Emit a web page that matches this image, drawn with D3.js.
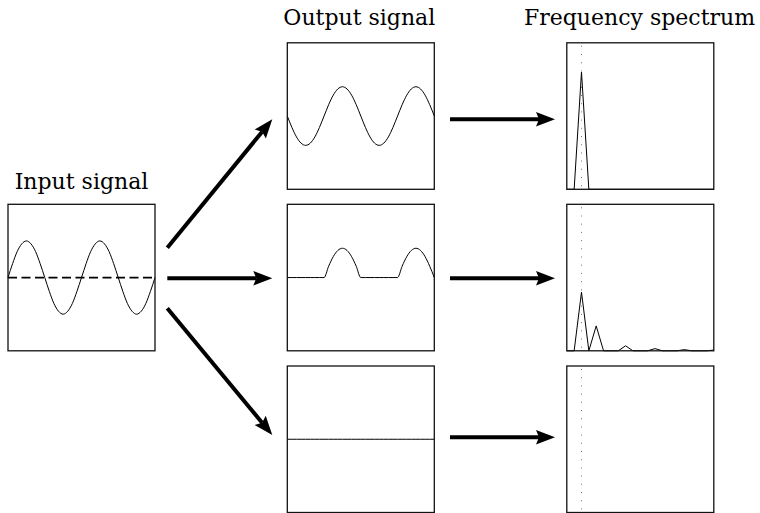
<!DOCTYPE html>
<html>
<head>
<meta charset="utf-8">
<script src="https://cdn.jsdelivr.net/npm/d3@7"></script>
<style>
  html, body { margin: 0; padding: 0; background: #fff; }
  svg { display: block; }
</style>
</head>
<body>
<svg id="chart" width="760" height="513"></svg>
<script>
// ---------- data ----------
const titles = ["Input signal", "Output signal", "Frequency spectrum"];

// input: two periods of a unit sine, sampled every 1/16 period
const inputSignal = [0, 0.38, 0.71, 0.92, 1, 0.92, 0.71, 0.38, 0, -0.38, -0.71, -0.92, -1, -0.92, -0.71, -0.38,
                     0, 0.38, 0.71, 0.92, 1, 0.92, 0.71, 0.38, 0, -0.38, -0.71, -0.92, -1, -0.92, -0.71, -0.38, 0];
// output 1: inverted, scaled sine
const outputLinear = [0, -0.31, -0.57, -0.74, -0.8, -0.74, -0.57, -0.31, 0, 0.31, 0.57, 0.74, 0.8, 0.74, 0.57, 0.31,
                      0, -0.31, -0.57, -0.74, -0.8, -0.74, -0.57, -0.31, 0, 0.31, 0.57, 0.74, 0.8, 0.74, 0.57, 0.31, 0];
// output 2: rectified
const outputRectified = [0, 0, 0, 0, 0, 0, 0, 0, 0, 0.31, 0.57, 0.74, 0.8, 0.74, 0.57, 0.31,
                         0, 0, 0, 0, 0, 0, 0, 0, 0, 0.31, 0.57, 0.74, 0.8, 0.74, 0.57, 0.31, 0];
// output 3: silent
const outputZero = [0, 0, 0, 0, 0, 0, 0, 0, 0, 0, 0, 0, 0, 0, 0, 0,
                    0, 0, 0, 0, 0, 0, 0, 0, 0, 0, 0, 0, 0, 0, 0, 0, 0];

// magnitude spectra, bins 0..20
const spectrumLinear = [0, 0, 0.8, 0, 0, 0, 0, 0, 0, 0, 0, 0, 0, 0, 0, 0, 0, 0, 0, 0, 0];
const spectrumRectified = [0, 0, 0.4, 0, 0.17, 0, 0, 0, 0.034, 0, 0, 0, 0.015, 0, 0, 0, 0.008, 0, 0, 0, 0.005];
const spectrumZero = [0, 0, 0, 0, 0, 0, 0, 0, 0, 0, 0, 0, 0, 0, 0, 0, 0, 0, 0, 0, 0];
const inputFrequencyBin = 2;

const outputs = [outputLinear, outputRectified, outputZero];
const spectra = [spectrumLinear, spectrumRectified, spectrumZero];

// ---------- layout ----------
const svg = d3.select("#chart");
const boxW = 147, boxH = 146.5;
const inputBox = { x: 8, y: 204.3 };
const outX = 287.3, specX = 566.8;
const rowY = [42.8, 204.3, 366];

const signalX = d3.scaleLinear().domain([0, inputSignal.length - 1]).range([0, boxW]);
const signalY = d3.scaleLinear().domain([-2, 2]).range([boxH, 0]);
const specXs = d3.scaleLinear().domain([0, spectrumLinear.length - 1]).range([0, boxW]);
const specYs = d3.scaleLinear().domain([0, 1]).range([boxH, 0]);

const sigLine = d3.line().x((d, i) => signalX(i)).y(d => signalY(d)).curve(d3.curveMonotoneX);
const specLine = d3.line().x((d, i) => specXs(i)).y(d => specYs(d));

function panel(x, y) {
  const g = svg.append("g").attr("transform", `translate(${x},${y})`);
  g.append("clipPath").attr("id", `c${x}_${y}`.replace(/\./g, "_"))
    .append("rect").attr("width", boxW).attr("height", boxH);
  return g;
}
function frame(g) {
  g.append("rect").attr("width", boxW).attr("height", boxH)
    .attr("fill", "none").attr("stroke", "#111").attr("stroke-width", 1.3);
}

// input panel
{
  const g = panel(inputBox.x, inputBox.y);
  g.append("path").datum(inputSignal).attr("d", sigLine)
    .attr("fill", "none").attr("stroke", "#000").attr("stroke-width", 1);
  g.append("line").attr("x1", 0).attr("x2", boxW).attr("y1", signalY(0)).attr("y2", signalY(0))
    .attr("stroke", "#000").attr("stroke-width", 1.8).attr("stroke-dasharray", "9,4.5");
  frame(g);
}

// outputs and spectra
outputs.forEach((sig, r) => {
  const g = panel(outX, rowY[r]);
  g.append("path").datum(sig).attr("d", sigLine)
    .attr("fill", "none").attr("stroke", "#000").attr("stroke-width", 1);
  frame(g);

  const s = panel(specX, rowY[r]);
  s.append("line").attr("x1", specXs(inputFrequencyBin)).attr("x2", specXs(inputFrequencyBin))
    .attr("y1", 3).attr("y2", boxH)
    .attr("stroke", "#666").attr("stroke-width", 0.9).attr("stroke-dasharray", "1,7.2");
  s.append("path").datum(spectra[r]).attr("d", specLine)
    .attr("fill", "none").attr("stroke", "#000").attr("stroke-width", 1);
  frame(s);
});

// titles
svg.append("text").attr("x", inputBox.x + boxW / 2).attr("y", 188.7).text(titles[0]);
svg.append("text").attr("x", outX + boxW / 2 - 1.5).attr("y", 25).text(titles[1]);
svg.append("text").attr("x", specX + boxW / 2 - 0.8).attr("y", 25).text(titles[2]);
svg.selectAll("text")
  .attr("text-anchor", "middle")
  .attr("font-family", "'DejaVu Serif', serif")
  .attr("font-size", 22)
  .attr("fill", "#000");

// arrows
function arrow(x1, y1, x2, y2) {
  const ang = Math.atan2(y2 - y1, x2 - x1);
  const len = Math.hypot(x2 - x1, y2 - y1);
  const g = svg.append("g").attr("transform", `translate(${x1},${y1}) rotate(${ang * 180 / Math.PI})`);
  const headL = 19, headW = 7.2;
  g.append("line").attr("x1", 0).attr("y1", 0).attr("x2", len - headL + 3).attr("y2", 0)
    .attr("stroke", "#000").attr("stroke-width", 4);
  g.append("path")
    .attr("d", `M${len},0 L${len - headL},${-headW} L${len - headL + 3},0 L${len - headL},${headW} Z`)
    .attr("fill", "#000");
}
arrow(167.3, 247.7, 272.3, 119.3);
arrow(167.3, 278.3, 272.3, 278.3);
arrow(167.3, 308.3, 272.3, 435);
arrow(450, 119.3, 555, 119.3);
arrow(450, 278.3, 555, 278.3);
arrow(450, 437.3, 555, 437.3);
</script>
</body>
</html>
